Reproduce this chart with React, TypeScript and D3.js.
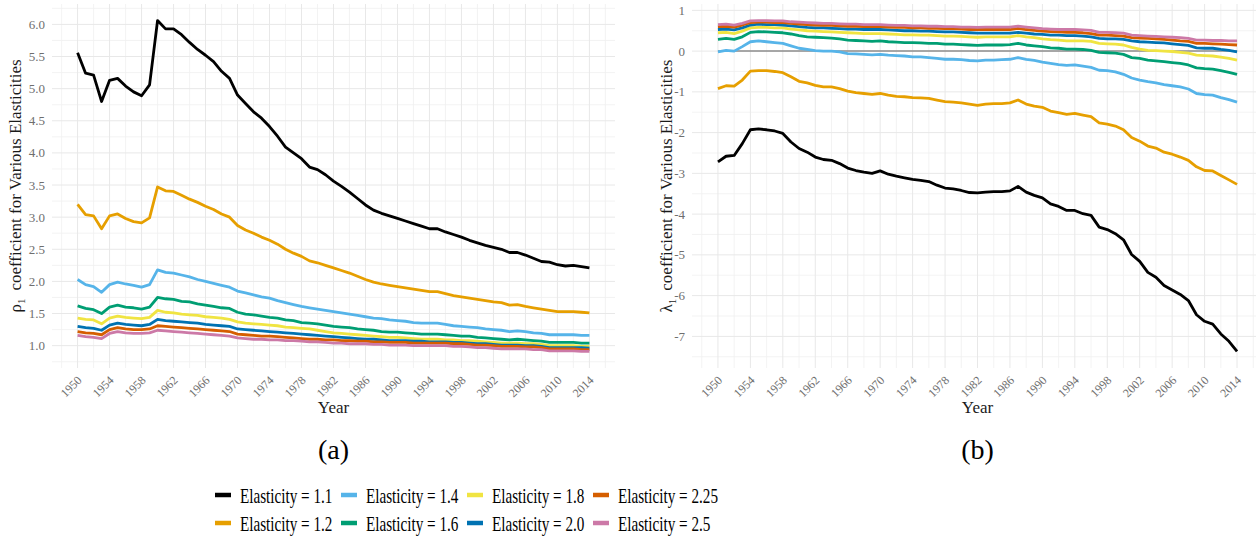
import React from 'react';
import * as d3 from 'd3';

// x categories
const years = d3.range(1950, 2015);

const elasticities = ['1.1', '1.2', '1.4', '1.6', '1.8', '2.0', '2.25', '2.5'];
const colors = ['#000000', '#E69F00', '#56B4E9', '#009E73', '#F0E442', '#0072B2', '#D55E00', '#CC79A7'];

// panel (a): rho_1 coefficient
const rho11 = [
  5.56, 5.24, 5.21, 4.80, 5.13, 5.16, 5.04, 4.95, 4.89, 5.06,
  6.06, 5.93, 5.93, 5.84, 5.72, 5.61, 5.52, 5.42, 5.27, 5.16,
  4.90, 4.77, 4.64, 4.54, 4.41, 4.26, 4.09, 4.00, 3.91, 3.78,
  3.74, 3.66, 3.56, 3.48, 3.39, 3.29, 3.19, 3.11, 3.06, 3.02,
  2.98, 2.94, 2.90, 2.86, 2.82, 2.82, 2.77, 2.73, 2.69, 2.64,
  2.60, 2.56, 2.53, 2.50, 2.45, 2.45, 2.41, 2.36, 2.31, 2.30,
  2.26, 2.24, 2.25, 2.23, 2.21,
];
const rho12 = [
  3.20, 3.04, 3.02, 2.82, 3.02, 3.05, 2.98, 2.93, 2.91, 2.99,
  3.47, 3.41, 3.40, 3.34, 3.28, 3.23, 3.17, 3.12, 3.05, 3.00,
  2.87, 2.80, 2.75, 2.69, 2.64, 2.58, 2.50, 2.44, 2.39, 2.32,
  2.29, 2.25, 2.21, 2.17, 2.13, 2.08, 2.03, 1.99, 1.96, 1.94,
  1.92, 1.90, 1.88, 1.86, 1.84, 1.84, 1.81, 1.78, 1.76, 1.74,
  1.72, 1.70, 1.68, 1.67, 1.63, 1.64, 1.61, 1.59, 1.57, 1.55,
  1.53, 1.53, 1.53, 1.52, 1.51,
];
const rho14 = [
  2.03, 1.95, 1.92, 1.83, 1.95, 1.99, 1.96, 1.94, 1.91, 1.95,
  2.18, 2.14, 2.13, 2.10, 2.07, 2.03, 2.00, 1.97, 1.94, 1.91,
  1.85, 1.82, 1.79, 1.76, 1.74, 1.70, 1.67, 1.64, 1.61, 1.59,
  1.57, 1.55, 1.53, 1.51, 1.49, 1.47, 1.45, 1.43, 1.42, 1.40,
  1.39, 1.38, 1.36, 1.35, 1.35, 1.35, 1.33, 1.31, 1.30, 1.29,
  1.28, 1.26, 1.25, 1.24, 1.22, 1.23, 1.22, 1.20, 1.19, 1.17,
  1.17, 1.17, 1.17, 1.16, 1.16,
];
const rho16 = [
  1.62, 1.58, 1.56, 1.50, 1.60, 1.63, 1.60, 1.59, 1.57, 1.60,
  1.75, 1.73, 1.72, 1.69, 1.68, 1.65, 1.63, 1.61, 1.59, 1.58,
  1.52, 1.49, 1.48, 1.46, 1.44, 1.43, 1.40, 1.39, 1.36, 1.35,
  1.34, 1.32, 1.30, 1.29, 1.28, 1.26, 1.25, 1.24, 1.22, 1.21,
  1.21, 1.20, 1.19, 1.18, 1.18, 1.18, 1.17, 1.16, 1.15, 1.15,
  1.13, 1.12, 1.11, 1.10, 1.09, 1.10, 1.09, 1.08, 1.07, 1.05,
  1.05, 1.05, 1.05, 1.04, 1.04,
];
const rho18 = [
  1.43, 1.41, 1.40, 1.34, 1.43, 1.46, 1.44, 1.43, 1.42, 1.44,
  1.55, 1.52, 1.51, 1.49, 1.48, 1.47, 1.45, 1.44, 1.43, 1.41,
  1.37, 1.35, 1.34, 1.33, 1.32, 1.31, 1.29, 1.28, 1.27, 1.26,
  1.24, 1.22, 1.20, 1.19, 1.18, 1.17, 1.16, 1.15, 1.14, 1.13,
  1.13, 1.12, 1.11, 1.10, 1.10, 1.10, 1.09, 1.09, 1.08, 1.08,
  1.07, 1.06, 1.05, 1.04, 1.04, 1.04, 1.03, 1.03, 1.02, 1.00,
  1.00, 1.00, 1.00, 0.99, 0.99,
];
const rho20 = [
  1.30, 1.28, 1.27, 1.24, 1.32, 1.35, 1.33, 1.32, 1.31, 1.33,
  1.41, 1.39, 1.38, 1.37, 1.36, 1.35, 1.33, 1.32, 1.31, 1.30,
  1.26, 1.25, 1.24, 1.23, 1.22, 1.21, 1.20, 1.19, 1.18, 1.17,
  1.16, 1.15, 1.14, 1.13, 1.12, 1.11, 1.10, 1.10, 1.09, 1.08,
  1.08, 1.08, 1.07, 1.07, 1.06, 1.06, 1.06, 1.05, 1.05, 1.04,
  1.03, 1.03, 1.02, 1.01, 1.01, 1.01, 1.00, 1.00, 0.99, 0.97,
  0.97, 0.97, 0.97, 0.97, 0.96,
];
const rho225 = [
  1.22, 1.20, 1.19, 1.17, 1.25, 1.28, 1.26, 1.25, 1.25, 1.26,
  1.31, 1.30, 1.29, 1.28, 1.27, 1.26, 1.25, 1.24, 1.23, 1.22,
  1.18, 1.17, 1.16, 1.15, 1.15, 1.14, 1.13, 1.12, 1.11, 1.10,
  1.10, 1.09, 1.09, 1.08, 1.08, 1.07, 1.07, 1.06, 1.06, 1.05,
  1.05, 1.05, 1.04, 1.04, 1.04, 1.04, 1.04, 1.03, 1.03, 1.02,
  1.01, 1.01, 1.00, 0.99, 0.99, 0.99, 0.98, 0.98, 0.97, 0.95,
  0.95, 0.95, 0.95, 0.94, 0.94,
];
const rho25 = [
  1.16, 1.14, 1.13, 1.11, 1.19, 1.22, 1.20, 1.19, 1.19, 1.20,
  1.24, 1.23, 1.22, 1.21, 1.20, 1.19, 1.18, 1.17, 1.16, 1.15,
  1.12, 1.11, 1.10, 1.10, 1.09, 1.09, 1.08, 1.08, 1.07, 1.06,
  1.06, 1.05, 1.04, 1.04, 1.03, 1.03, 1.03, 1.02, 1.02, 1.01,
  1.01, 1.01, 1.00, 1.00, 1.00, 1.00, 1.00, 0.99, 0.99, 0.98,
  0.97, 0.97, 0.96, 0.95, 0.95, 0.95, 0.95, 0.94, 0.94, 0.92,
  0.92, 0.92, 0.92, 0.91, 0.91,
];

// panel (b): lambda_1 coefficient
const lam11 = [
  -2.72, -2.58, -2.56, -2.27, -1.93, -1.91, -1.93, -1.96, -2.02, -2.23,
  -2.39, -2.48, -2.60, -2.66, -2.68, -2.76, -2.87, -2.93, -2.97, -3.00,
  -2.94, -3.02, -3.07, -3.11, -3.15, -3.17, -3.20, -3.29, -3.36, -3.38,
  -3.42, -3.47, -3.48, -3.46, -3.45, -3.45, -3.43, -3.32, -3.46, -3.54,
  -3.60, -3.75, -3.81, -3.91, -3.91, -3.99, -4.03, -4.32, -4.38, -4.48,
  -4.63, -4.99, -5.16, -5.43, -5.55, -5.75, -5.86, -5.97, -6.12, -6.47,
  -6.63, -6.70, -6.94, -7.12, -7.37,
];
const lam12 = [
  -0.92, -0.85, -0.86, -0.71, -0.49, -0.48, -0.48, -0.50, -0.53, -0.63,
  -0.74, -0.78, -0.84, -0.88, -0.88, -0.92, -0.98, -1.02, -1.04, -1.06,
  -1.04, -1.08, -1.11, -1.12, -1.14, -1.15, -1.16, -1.20, -1.24, -1.25,
  -1.27, -1.30, -1.33, -1.30, -1.29, -1.29, -1.27, -1.20, -1.30, -1.35,
  -1.38, -1.47, -1.51, -1.55, -1.53, -1.57, -1.61, -1.76, -1.79, -1.84,
  -1.93, -2.12, -2.21, -2.33, -2.38, -2.48, -2.53, -2.60, -2.68, -2.84,
  -2.93, -2.94, -3.05, -3.16, -3.27,
];
const lam14 = [
  -0.02, 0.02, 0.00, 0.11, 0.23, 0.25, 0.23, 0.21, 0.19, 0.13,
  0.07, 0.04, 0.01, 0.00, 0.00, -0.02, -0.06, -0.07, -0.08, -0.09,
  -0.08, -0.10, -0.11, -0.12, -0.14, -0.14, -0.16, -0.18, -0.20, -0.20,
  -0.21, -0.23, -0.24, -0.22, -0.22, -0.21, -0.20, -0.16, -0.20, -0.23,
  -0.27, -0.30, -0.33, -0.35, -0.34, -0.37, -0.40, -0.47, -0.48, -0.51,
  -0.57, -0.66, -0.71, -0.75, -0.78, -0.82, -0.85, -0.88, -0.93, -1.04,
  -1.07, -1.08, -1.14, -1.19, -1.25,
];
const lam16 = [
  0.29, 0.31, 0.29, 0.35, 0.46, 0.48, 0.47, 0.46, 0.45, 0.42,
  0.38, 0.35, 0.34, 0.33, 0.32, 0.30, 0.27, 0.26, 0.25, 0.24,
  0.25, 0.23, 0.22, 0.21, 0.21, 0.20, 0.19, 0.19, 0.17, 0.17,
  0.16, 0.15, 0.14, 0.15, 0.15, 0.15, 0.16, 0.19, 0.15, 0.13,
  0.11, 0.08, 0.07, 0.05, 0.05, 0.04, 0.02, -0.03, -0.04, -0.05,
  -0.08, -0.16, -0.18, -0.22, -0.24, -0.26, -0.28, -0.30, -0.34, -0.41,
  -0.43, -0.44, -0.48, -0.52, -0.57,
];
const lam18 = [
  0.45, 0.46, 0.43, 0.49, 0.57, 0.58, 0.58, 0.57, 0.57, 0.54,
  0.52, 0.50, 0.49, 0.48, 0.47, 0.46, 0.45, 0.44, 0.43, 0.43,
  0.43, 0.42, 0.41, 0.40, 0.40, 0.39, 0.39, 0.38, 0.37, 0.37,
  0.36, 0.35, 0.34, 0.35, 0.35, 0.35, 0.35, 0.38, 0.35, 0.33,
  0.30, 0.28, 0.27, 0.25, 0.25, 0.25, 0.24, 0.19, 0.18, 0.17,
  0.15, 0.09, 0.05, 0.02, 0.01, 0.00, -0.01, -0.03, -0.05, -0.10,
  -0.11, -0.12, -0.15, -0.18, -0.22,
];
const lam20 = [
  0.53, 0.54, 0.52, 0.57, 0.64, 0.66, 0.65, 0.65, 0.64, 0.62,
  0.60, 0.58, 0.57, 0.57, 0.56, 0.55, 0.54, 0.54, 0.53, 0.53,
  0.53, 0.52, 0.51, 0.50, 0.50, 0.49, 0.49, 0.48, 0.47, 0.47,
  0.46, 0.45, 0.44, 0.44, 0.44, 0.44, 0.44, 0.46, 0.44, 0.42,
  0.41, 0.39, 0.39, 0.38, 0.38, 0.37, 0.35, 0.31, 0.30, 0.30,
  0.29, 0.25, 0.23, 0.22, 0.21, 0.20, 0.18, 0.16, 0.14, 0.08,
  0.07, 0.07, 0.04, 0.02, -0.02,
];
const lam225 = [
  0.60, 0.61, 0.59, 0.64, 0.70, 0.71, 0.71, 0.70, 0.70, 0.68,
  0.66, 0.65, 0.64, 0.63, 0.63, 0.62, 0.61, 0.61, 0.60, 0.60,
  0.60, 0.59, 0.58, 0.58, 0.57, 0.57, 0.56, 0.56, 0.55, 0.55,
  0.54, 0.53, 0.53, 0.53, 0.53, 0.53, 0.53, 0.56, 0.53, 0.51,
  0.49, 0.48, 0.47, 0.46, 0.46, 0.45, 0.43, 0.39, 0.39, 0.38,
  0.37, 0.33, 0.32, 0.31, 0.30, 0.29, 0.27, 0.25, 0.24, 0.19,
  0.19, 0.18, 0.17, 0.16, 0.15,
];
const lam25 = [
  0.65, 0.66, 0.64, 0.68, 0.74, 0.75, 0.75, 0.74, 0.74, 0.72,
  0.71, 0.70, 0.69, 0.68, 0.68, 0.67, 0.66, 0.66, 0.65, 0.65,
  0.65, 0.64, 0.63, 0.63, 0.62, 0.62, 0.61, 0.61, 0.60, 0.60,
  0.59, 0.59, 0.58, 0.59, 0.59, 0.59, 0.59, 0.61, 0.59, 0.57,
  0.55, 0.54, 0.53, 0.53, 0.53, 0.52, 0.51, 0.46, 0.46, 0.45,
  0.44, 0.39, 0.38, 0.37, 0.36, 0.35, 0.34, 0.33, 0.31, 0.27,
  0.27, 0.26, 0.26, 0.25, 0.25,
];

const rhoSeries = [rho11, rho12, rho14, rho16, rho18, rho20, rho225, rho25];
const lamSeries = [lam11, lam12, lam14, lam16, lam18, lam20, lam225, lam25];

const rhoTicks = ['1.0', '1.5', '2.0', '2.5', '3.0', '3.5', '4.0', '4.5', '5.0', '5.5', '6.0'];
const lamTicks = ['-7', '-6', '-5', '-4', '-3', '-2', '-1', '0', '1'];

const FONT = '"Liberation Serif", "DejaVu Serif", serif';
const TOP = 4;
const BOTTOM = 368;

// ggplot-like 5% expansion
const expand = ([a, b]: [number, number]): [number, number] => {
  const pad = (b - a) * 0.05;
  return [a - pad, b + pad];
};

interface PanelProps {
  x0: number;
  x1: number;
  series: number[][];
  ticks: string[];
  symbol: string;
  tag: string;
  zeroLine?: boolean;
}

const Panel: React.FC<PanelProps> = ({ x0, x1, series, ticks, symbol, tag, zeroLine }) => {
  const x = d3.scaleLinear().domain(expand(d3.extent(years) as [number, number])).range([x0, x1]);
  const allVals = series.flat();
  const y = d3.scaleLinear().domain(expand(d3.extent(allVals) as [number, number])).range([BOTTOM, TOP]);

  const tickVals = ticks.map(Number);
  const yStep = tickVals[1] - tickVals[0];
  const yMinor = [tickVals[0] - yStep / 2, ...tickVals.map(t => t + yStep / 2)]
    .filter(v => y(v) >= TOP && y(v) <= BOTTOM);
  const xMajor = d3.range(1950, 2015, 4);
  const xMinor = d3.range(1948, 2019, 4).filter(v => x(v) <= x1);

  const line = d3.line<number>()
    .x((_, i) => x(years[i]))
    .y(d => y(d));

  const cx = (x0 + x1) / 2;
  const cy = (TOP + BOTTOM) / 2;
  const titleX = x0 - (symbol === 'ρ' ? 31 : 20);

  return (
    <g>
      {/* minor grid */}
      {yMinor.map(v => (
        <line key={'ym' + v} x1={x0} x2={x1} y1={y(v)} y2={y(v)} stroke="#f0f0f0" strokeWidth={0.8} />
      ))}
      {xMinor.map(v => (
        <line key={'xm' + v} x1={x(v)} x2={x(v)} y1={TOP} y2={BOTTOM} stroke="#f0f0f0" strokeWidth={0.8} />
      ))}
      {/* major grid */}
      {tickVals.map(v => (
        <line key={'yM' + v} x1={x0} x2={x1} y1={y(v)} y2={y(v)} stroke="#e8e8e8" strokeWidth={1} />
      ))}
      {xMajor.map(v => (
        <line key={'xM' + v} x1={x(v)} x2={x(v)} y1={TOP} y2={BOTTOM} stroke="#e8e8e8" strokeWidth={1} />
      ))}

      {zeroLine && (
        <line x1={x(1950)} x2={x(2014)} y1={y(0)} y2={y(0)} stroke="#8c8c8c" strokeWidth={1.5} />
      )}

      {series.map((s, i) => (
        <path key={i} d={line(s) || ''} fill="none" stroke={colors[i]} strokeWidth={2.8}
          strokeLinejoin="round" strokeLinecap="butt" />
      ))}

      {/* y tick labels */}
      {ticks.map((t, i) => (
        <text key={'yt' + t} x={x0 - 7} y={y(tickVals[i])} dy="0.35em" textAnchor="end"
          fontFamily={FONT} fontSize={13} fill="#6e6e6e">{t}</text>
      ))}
      {/* x tick labels */}
      {xMajor.map(v => (
        <text key={'xt' + v} transform={`translate(${x(v) + 5},${BOTTOM + 13}) rotate(-45)`}
          textAnchor="end" fontFamily={FONT} fontSize={12} fill="#6e6e6e">{v}</text>
      ))}

      <text x={cx} y={BOTTOM + 45} textAnchor="middle" fontFamily={FONT} fontSize={17} fill="#1a1a1a">Year</text>

      <text transform={`translate(${titleX},${cy}) rotate(-90)`} textAnchor="middle"
        fontFamily={FONT} fontSize={17} fill="#1a1a1a">
        <tspan>{symbol}</tspan>
        <tspan fontSize={11} dy={4}>1</tspan>
        <tspan dy={-4} dx={8}>coefficient for Various Elasticities</tspan>
      </text>

      <text x={cx} y={459} textAnchor="middle" fontFamily={FONT} fontSize={28} fill="#000">{tag}</text>
    </g>
  );
};

const Legend: React.FC = () => {
  const colX = d3.scaleLinear().domain([0, 1]).range([215, 341]);
  const rowY = d3.scaleLinear().domain([0, 1]).range([495, 523]);
  return (
    <g>
      {elasticities.map((e, i) => {
        const col = Math.floor(i / 2);
        const row = i % 2;
        const kx = colX(col);
        const ky = rowY(row);
        return (
          <g key={e}>
            <line x1={kx} x2={kx + 16} y1={ky} y2={ky} stroke={colors[i]} strokeWidth={4.5} />
            <text transform={`translate(${kx + 25},${ky + 7.5}) scale(0.69,1)`} fontFamily={FONT}
              fontSize={22} fill="#000">{`Elasticity = ${e}`}</text>
          </g>
        );
      })}
    </g>
  );
};

export default function App() {
  return (
    <svg width={1256} height={540} style={{ position: 'absolute', left: 0, top: 0, display: 'block', background: '#fff' }}>
      <rect width={1256} height={540} fill="#fff" />
      <Panel x0={52} x1={615} series={rhoSeries} ticks={rhoTicks} symbol="ρ" tag="(a)" />
      <Panel x0={692} x1={1263} series={lamSeries} ticks={lamTicks} symbol="λ" tag="(b)" zeroLine />
      <Legend />
    </svg>
  );
}
